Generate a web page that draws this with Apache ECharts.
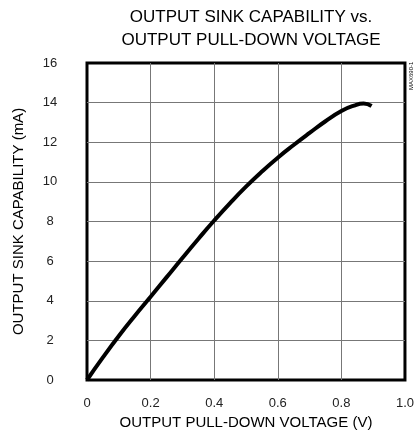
<!DOCTYPE html>
<html>
<head>
<meta charset="utf-8">
<style>
  html, body { margin: 0; padding: 0; background: #fff; }
  #main { width: 417px; height: 443px; }
</style>
<script src="https://cdn.jsdelivr.net/npm/echarts@6/dist/echarts.min.js"></script>
</head>
<body>
<div id="main"></div>
<script>
// 输出下拉电压 (V)
var voltage = [0, 0.05, 0.1, 0.15, 0.2, 0.25, 0.3, 0.35, 0.4, 0.45, 0.5, 0.55, 0.6, 0.65, 0.7, 0.75, 0.8, 0.84, 0.87, 0.895];
// 输出吸收电流 (mA)
var sinkCurrent = [0, 1.14, 2.22, 3.23, 4.2, 5.18, 6.16, 7.12, 8.05, 8.93, 9.76, 10.52, 11.22, 11.86, 12.47, 13.06, 13.58, 13.85, 13.95, 13.83];
var titleLines = ['OUTPUT SINK CAPABILITY vs.', 'OUTPUT PULL-DOWN VOLTAGE'];
var xName = 'OUTPUT PULL-DOWN VOLTAGE (V)';
var yName = 'OUTPUT SINK CAPABILITY (mA)';
var sideTag = 'MAX690-1';

var font = "'Liberation Sans', Arial, sans-serif";

var points = voltage.map(function(v, i) { return [v, sinkCurrent[i]]; });

var myChart = echarts.init(document.getElementById('main'));
myChart.setOption({
  animation: false,
  title: {
    text: titleLines.join('\n'),
    left: 246,
    textAlign: 'center',
    top: 1,
    textStyle: {
      fontFamily: font,
      fontSize: 17,
      fontWeight: 'normal',
      color: '#000',
      lineHeight: 23
    }
  },
  graphic: [{
    type: 'text',
    x: 408,
    y: 90,
    rotation: Math.PI / 2,
    style: {
      text: sideTag,
      font: '6px ' + font,
      fill: '#000'
    }
  }],
  grid: {
    left: 87,
    right: 12,
    top: 63,
    bottom: 63,
    show: true,
    borderColor: '#000',
    borderWidth: 3
  },
  xAxis: {
    type: 'value',
    min: 0,
    max: 1,
    interval: 0.2,
    name: xName,
    nameLocation: 'middle',
    nameGap: 33,
    nameTextStyle: { fontFamily: font, fontSize: 15, color: '#000' },
    axisLine: { show: false },
    axisTick: { show: false },
    axisLabel: {
      margin: 17,
      fontFamily: font,
      fontSize: 13,
      color: '#222',
      formatter: function(v) { return v === 0 ? '0' : v.toFixed(1); }
    },
    splitLine: {
      show: true,
      showMinLine: false,
      showMaxLine: false,
      lineStyle: { color: '#777', width: 1 }
    }
  },
  yAxis: {
    type: 'value',
    min: 0,
    max: 16,
    interval: 2,
    name: yName,
    nameLocation: 'middle',
    nameGap: 61,
    nameTextStyle: { fontFamily: font, fontSize: 15, color: '#000' },
    axisLine: { show: false },
    axisTick: { show: false },
    axisLabel: {
      margin: 37,
      align: 'center',
      fontFamily: font,
      fontSize: 13,
      color: '#222'
    },
    splitLine: {
      show: true,
      showMinLine: false,
      showMaxLine: false,
      lineStyle: { color: '#777', width: 1 }
    }
  },
  series: [{
    type: 'line',
    data: points,
    smooth: true,
    showSymbol: false,
    lineStyle: { color: '#000', width: 4 }
  }]
});
</script>
</body>
</html>
